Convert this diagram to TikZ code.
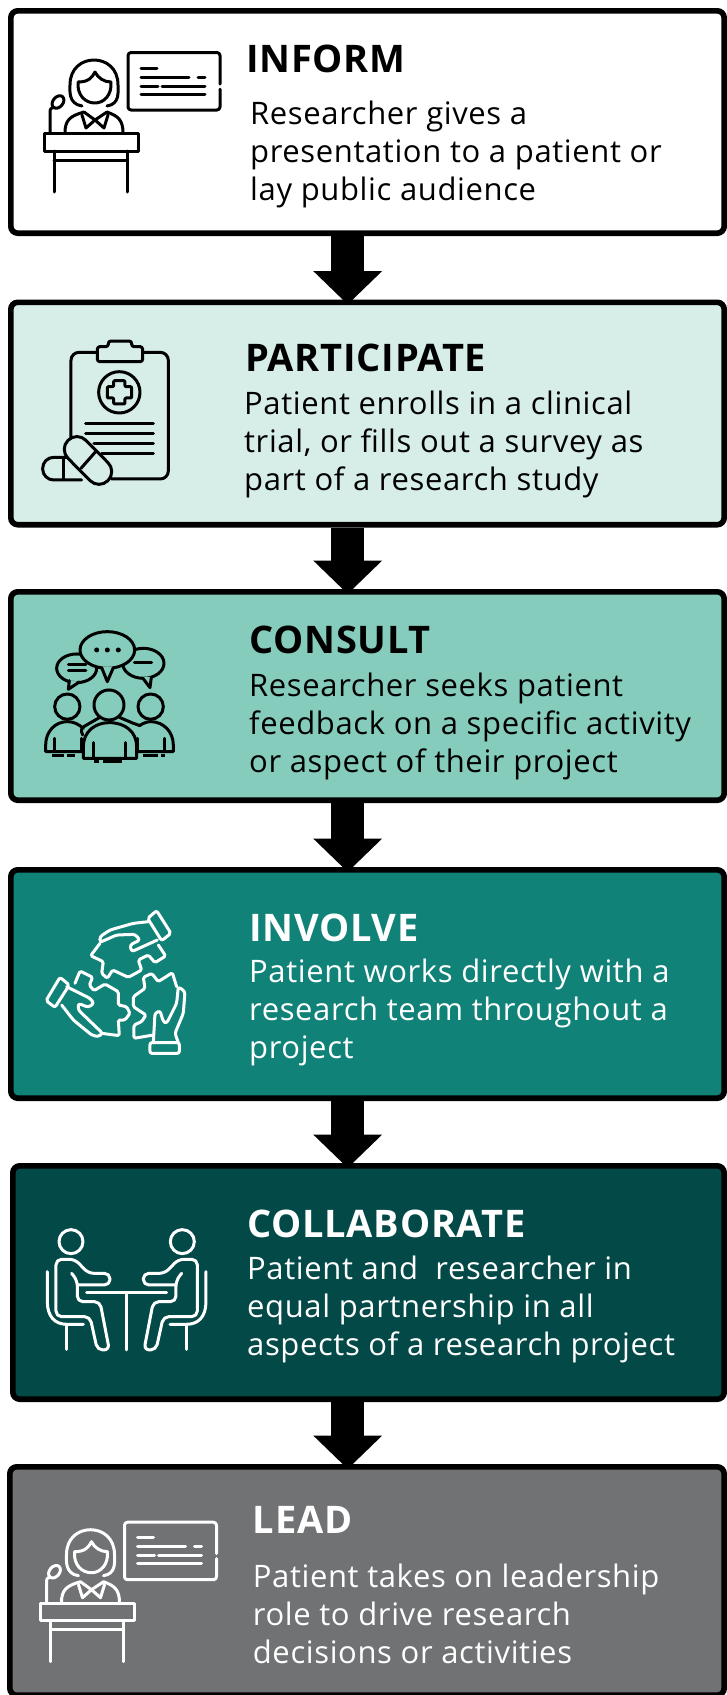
\documentclass[tikz,border=0pt]{standalone}
\usepackage{fontspec}
\setmainfont{Open Sans}[LetterSpace=2]
\usetikzlibrary{arrows.meta,calc}
\definecolor{bgB}{HTML}{D6EDE8}
\definecolor{bgC}{HTML}{85CCBC}
\definecolor{bgD}{HTML}{108278}
\definecolor{bgE}{HTML}{034947}
\definecolor{bgF}{HTML}{717274}
\tikzset{
 stage/.style={draw=black,line width=5.6pt,rounded corners=7pt,inner sep=0pt,anchor=north west},
 head/.style={anchor=base west,inner sep=0pt,font=\fontsize{38}{38}\selectfont\bfseries},
 body/.style={anchor=base west,inner sep=0pt,align=left,font=\fontsize{31}{37.8}\selectfont},
 flow/.style={line width=33.4pt,shorten >=-5pt,-{Triangle[length=33.5pt,width=67pt]}},
 ic/.style={line width=3pt,line cap=round,line join=round},
 zoomed/.style={x=0.3333pt,y=-0.3333pt},
}
\newcommand{\presenter}[2]{%
\begin{scope}[ic,draw=#1,shift={(#2)}]
 \draw[rounded corners=3pt] (220,84) -- (220,52.5) -- (128,52.5) -- (128,110) -- (220,110) -- (220,89);
 \draw (141,68) -- (157,68) (141,77) -- (189,77) (198,77) -- (205,77)
       (141,86) -- (158,86) (162,86) -- (205,86) (141,94) -- (205,94);
 \draw (82,106) .. controls (68,104) and (70,90) .. (70,85) .. controls (70,68) and (82,60) .. (94,60)
       .. controls (106,60) and (118,68) .. (118,85) .. controls (118,92) and (120,104) .. (107,106);
 \draw (78,82) .. controls (88,82) and (92,78) .. (95,72) .. controls (98,78) and (104,82) .. (111,82)
       .. controls (112,95) and (104,103) .. (95,103) .. controls (85,103) and (77,95) .. (78,82);
 \draw (65,133) .. controls (65,120) and (70,116) .. (84,112) (123,133) .. controls (123,120) and (118,116) .. (107,112);
 \draw (84,112) -- (95,120) -- (107,112) (82,115) -- (86,128) -- (95,120) -- (104,128) -- (108,115);
 \draw (44,133.5) rectangle (138,151);
 \draw (54,151) -- (54,192) (127,151) -- (127,192) (54,160) -- (127,160);
 \draw (50,133) -- (50,112) .. controls (50,108) and (52,108) .. (54,107);
 \draw[rotate around={50:(58,102)}] (58,102) ellipse (7 and 5);
\end{scope}}
\newcommand{\seatedperson}{%
 \draw (153,1055) circle (36);
 \draw[rounded corners=5.5pt] (155,1150) -- (172,1172) -- (172,1235) -- (240,1235) -- (268,1380) -- (232,1380) -- (210,1280) -- (108,1280) -- (108,1108) -- (165,1108) -- (205,1150) -- (270,1150) -- (270,1185) -- (172,1185);
 \draw (82,1145) -- (82,1235) .. controls (82,1280) and (105,1303) .. (140,1303) -- (190,1303);
 \draw (140,1303) -- (140,1378);
}
\begin{document}
\begin{tikzpicture}[x=1pt,y=-1pt]
\useasboundingbox (0,0) rectangle (727,1695);
\fill[white] (0,0) rectangle (727,1695);
\coordinate (axis) at (347.7,0);
\node[stage,fill=white,minimum width=713.4pt,minimum height=222.4pt] (boxA) at (8,8) {};
\node[stage,fill=bgB,minimum width=713.4pt,minimum height=222.4pt] (boxB) at (8,299.5) {};
\node[stage,fill=bgC,minimum width=713.4pt,minimum height=208.4pt] (boxC) at (8,589) {};
\node[stage,fill=bgD,minimum width=713.4pt,minimum height=228.4pt] (boxD) at (8,867) {};
\node[stage,fill=bgE,minimum width=711.4pt,minimum height=233.4pt] (boxE) at (10,1163) {};
\node[stage,fill=bgF,minimum width=714.4pt,minimum height=228.4pt] (boxF) at (7,1464) {};
\foreach \a/\b in {boxA/boxB,boxB/boxC,boxC/boxD,boxD/boxE,boxE/boxF}
  \draw[flow] (\a.south -| axis) -- (\b.north -| axis);
\node[head] (tA) at (246,72) {INFORM};
\node[body] (xA) at (250,200) {Researcher gives a\\presentation to a patient or\\lay public audience};
\node[head] (tB) at (245,371) {PARTICIPATE};
\node[body] (xB) at (244,490.5) {Patient enrolls in a clinical\\trial, or fills out a survey as\\part of a research study};
\node[head] (tC) at (249,653) {CONSULT};
\node[body] (xC) at (249,772.5) {Researcher seeks patient\\feedback on a specific activity\\or aspect of their project};
\node[head,text=white] (tD) at (249,941) {INVOLVE};
\node[body,text=white] (xD) at (249,1058.5) {Patient works directly with a\\research team throughout a\\project};
\node[head,text=white] (tE) at (247,1237) {COLLABORATE};
\node[body,text=white] (xE) at (247,1355.5) {Patient and\ \ researcher in\\equal partnership in all\\aspects of a research project};
\node[head,text=white] (tF) at (252.7,1533) {LEAD};
\node[body,text=white] (xF) at (252.7,1663.5) {Patient takes on leadership\\role to drive research\\decisions or activities};
\presenter{black}{0,0}
\presenter{white}{-3.5,1469.7}
% clipboard
\begin{scope}[ic,shift={(20,320)},zoomed]
 \draw[rounded corners=8pt] (153,357) -- (153,97) -- (232,97);
 \draw[rounded corners=8pt] (368,97) -- (445,97) -- (445,477) -- (275,477);
 \draw[rounded corners=2.5pt] (232,125) -- (232,80) -- (265,80) -- (265,63) -- (335,63) -- (335,80) -- (368,80) -- (368,125) -- cycle;
 \draw (298,217) circle (62);
 \draw[rounded corners=1pt] (281,182) -- (315,182) -- (315,200) -- (335,200) -- (335,234) -- (315,234) -- (315,252) -- (281,252) -- (281,234) -- (262,234) -- (262,200) -- (281,200) -- cycle;
 \draw (197,311) -- (400,311) (197,341) -- (400,341) (222,371) -- (400,371) (245,401) -- (400,401);
 \draw[rounded corners=11pt] (140,412) -- (68,412) -- (68,480) -- (185,480);
 \draw (130,415) -- (130,478);
 \draw[fill=bgB,rounded corners=12.6pt] (171,334) -- (290.8,455) -- (237,508.8) -- (117.2,388) -- cycle;
 \draw (227,395) -- (183,445);
\end{scope}
% consult
\begin{scope}[ic,shift={(20,320)},zoomed]
 \draw[fill=bgC] (170,1045) ellipse (60 and 43);
 \fill[bgC] (148,1080) -- (145,1108) -- (178,1086) -- cycle;
 \draw (148,1082) -- (145,1108) -- (178,1086);
 \draw (145,1033) -- (198,1033) (145,1051) -- (198,1051);
 \draw[fill=bgC] (370,1030) ellipse (62 and 45);
 \fill[bgC] (368,1072) -- (390,1103) -- (394,1070) -- cycle;
 \draw (368,1074) -- (390,1103) -- (394,1072);
 \draw (343,1029) -- (395,1029);
 \draw[fill=bgC] (262,990) ellipse (82 and 55);
 \fill[bgC] (245,1040) -- (262,1085) -- (280,1040) -- cycle;
 \draw (245,1043) -- (262,1085) -- (280,1043);
 \fill (230,990) circle (7.5) (262,990) circle (7.5) (295,990) circle (7.5);
 \draw (142,1160) circle (38) (392,1160) circle (38) (267,1155) circle (45);
 \draw (190,1225) .. controls (175,1212) and (160,1205) .. (142,1205) .. controls (105,1205) and (77,1235) .. (77,1275) -- (77,1295) -- (190,1295);
 \draw (345,1295) -- (460,1295) -- (460,1275) .. controls (460,1235) and (430,1205) .. (392,1205) .. controls (380,1205) and (370,1210) .. (358,1217);
 \draw (188,1245) .. controls (180,1230) and (185,1222) .. (200,1215) -- (240,1192) (298,1192) -- (340,1210) -- (360,1217);
 \draw[fill=bgC] (190,1315) -- (190,1280) .. controls (190,1235) and (225,1208) .. (268,1208) .. controls (315,1208) and (350,1235) .. (350,1280) -- (350,1315) -- cycle;
 \draw (103,1255) -- (103,1295) (185,1255) -- (185,1295) (220,1268) -- (220,1315) (317,1268) -- (317,1315) (352,1255) -- (352,1295) (433,1255) -- (433,1295);
 \draw[line cap=butt] (97,1308) -- (132,1308) (142,1308) -- (165,1308) (370,1308) -- (413,1308) (423,1308) -- (435,1308) (222,1324) -- (237,1324) (250,1324) -- (305,1324);
\end{scope}
% puzzle
\begin{scope}[ic,draw=white,shift={(20,890)},zoomed]
 \draw[rounded corners=2pt] (410,62) -- (453,130) -- (425,152) -- (383,85) -- cycle;
 \draw[rounded corners=2.5pt] (385,95) -- (340,100) -- (270,120) -- (240,140) -- (240,157) -- (290,135) -- (345,133) -- (360,150) -- (330,165) -- (335,185) -- (412,150);
 \draw[rounded corners=1.5pt] (240,160) -- (212,197) -- (250,215) -- (245,250) -- (262,265) -- (278,240) -- (325,262) -- (365,240) -- (355,210) -- (385,195) -- (405,218) -- (437,198) -- (415,165);
 \draw[rounded corners=2pt] (120,262) -- (148,285) -- (105,352) -- (78,332) -- cycle;
 \draw[rounded corners=2.5pt] (140,290) -- (210,325) -- (222,340) -- (205,352) -- (175,340) -- (175,360) -- (248,430) -- (235,440) -- (215,435) -- (160,390) -- (125,345);
 \draw[rounded corners=1.5pt] (165,280) -- (180,243) -- (218,262) -- (208,285) -- (222,302) -- (255,282) -- (295,305) -- (295,345) -- (320,350) -- (330,370) -- (315,390) -- (295,390) -- (298,437) -- (245,430);
 \draw[rounded corners=1.5pt] (470,290) -- (457,248) -- (415,275) -- (395,250) -- (370,262) -- (375,295) -- (340,320) -- (340,350) -- (378,375) -- (365,395) -- (342,405) -- (342,445) -- (400,435);
 \draw[rounded corners=2.5pt] (400,458) -- (405,370) -- (420,362) -- (430,395) -- (440,400) -- (470,340) -- (475,290) -- (495,305) -- (490,370) -- (465,430) -- (475,458);
 \draw[rounded corners=2pt] (390,458) rectangle (478,490);
\end{scope}
% collaborate
\begin{scope}[ic,draw=white,shift={(20,890)},zoomed]
 \seatedperson
 \draw (200,1208) -- (440,1208) (320,1208) -- (320,1380);
\end{scope}
\begin{scope}[ic,draw=white,shift={(20,890)},zoomed,shift={(640,0)},xscale=-1]
 \seatedperson
\end{scope}
\end{tikzpicture}
\end{document}
